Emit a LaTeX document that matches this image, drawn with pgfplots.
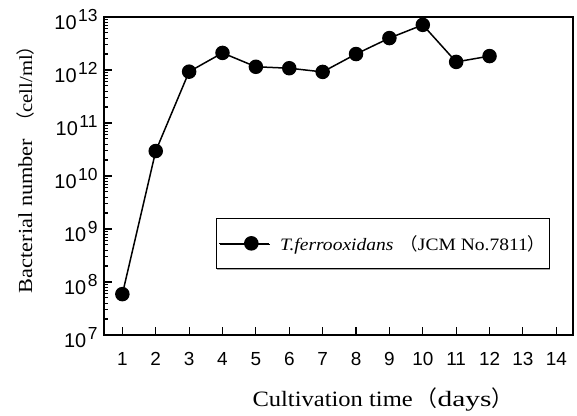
\documentclass[border=0pt]{standalone}
\usepackage{pgfplots}
\pgfplotsset{compat=1.18}
\usepackage{graphicx}
\usepackage{fontspec}
\setmainfont[FakeStretch=1.12]{Liberation Serif}
\setsansfont{Liberation Sans}
\newfontfamily\cjk{Noto Sans CJK JP}
\usetikzlibrary{shadows}
\newcommand{\tl}[1]{\fontsize{20}{20}\selectfont\sffamily 10\hspace{1.5bp}\raisebox{8bp}{\fontsize{17.5}{17.5}\selectfont #1}}
\begin{document}
\begin{tikzpicture}
\begin{axis}[
  scale only axis, width=469bp, height=318bp,
  ymode=log, ymin=1e7, ymax=1e13,
  xmin=0.45, xmax=14.5,
  xtick={1,...,14},
  xticklabels={1,2,3,4,5,6,7,8,9,10,11,12,13,14},
  ytick={1e7,1e8,1e9,1e10,1e11,1e12,1e13},
  yticklabels={\tl{7},\tl{8},\tl{9},\tl{10},\tl{11},\tl{12},\tl{13}},
  minor ytick={2e7,3e7,4e7,5e7,6e7,7e7,8e7,9e7,
               2e8,3e8,4e8,5e8,6e8,7e8,8e8,9e8,
               2e9,3e9,4e9,5e9,6e9,7e9,8e9,9e9,
               2e10,3e10,4e10,5e10,6e10,7e10,8e10,9e10,
               2e11,3e11,4e11,5e11,6e11,7e11,8e11,9e11,
               2e12,3e12,4e12,5e12,6e12,7e12,8e12,9e12},
  axis line style={line width=1.2bp},
  tick style={black, line width=1.1bp},
  tick align=inside,
  xtick pos=bottom, ytick pos=left,
  major tick length=8bp, minor tick length=4bp,
  xticklabel style={font=\fontsize{19}{19}\selectfont\sffamily, yshift=-14bp},
  yticklabel style={xshift=-3bp, yshift=-3bp},
  xlabel={Cultivation time\hspace{3bp}{\cjk （}\scalebox{1.2}[1]{days}{\cjk ）}},
  xlabel style={font=\fontsize{22}{22}\selectfont, at={(axis description cs:0.595,0)}, anchor=base, yshift=-72bp},
  ylabel={Bacterial number\hspace{8bp}{\fontsize{18.5}{18.5}\selectfont{\cjk （}cell/ml{\cjk ）}}},
  ylabel style={font=\fontsize{20}{20}\selectfont, at={(axis description cs:-0.1535,0.535)}, anchor=base, rotate=0},
  legend style={at={(axis description cs:0.239,0.369)}, anchor=north west, draw=black, line width=1bp,
    font=\fontsize{17.5}{17.5}\selectfont, inner xsep=2bp, inner ysep=15bp,
    drop shadow={shadow xshift=0.8bp, shadow yshift=-1.3bp, fill=gray!70, opacity=1}},
  legend image code/.code={\path (0bp,0bp) -- (14bp,0bp); \draw[mark repeat=2, mark phase=2, #1, line width=1.6bp] plot coordinates {(14bp,0bp)(32bp,0bp)(50bp,0bp)};},
]
\addplot[black, line width=1.5bp, mark=*, mark size=6.5bp, mark options={solid, fill=black}] coordinates {
(1,5.9e7) (2,2.96e10) (3,9.3e11) (4,2.1e12) (5,1.15e12) (6,1.08e12) (7,9.2e11)
(8,2.0e12) (9,4.0e12) (10,7.1e12) (11,1.42e12) (12,1.83e12)};
\addlegendentry{\hspace{8bp}\textit{T.ferrooxidans}\hspace{7bp}{\cjk （}JCM No.7811{\cjk ）}}
\coordinate (o) at (rel axis cs:0,0);
\end{axis}
\path (o) ++(-104bp,-79bp) rectangle ++(577bp,414bp);
\end{tikzpicture}
\end{document}
